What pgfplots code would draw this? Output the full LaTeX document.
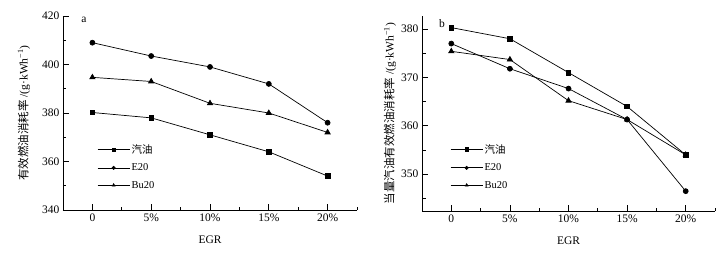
\documentclass[border=0pt]{standalone}
\usepackage{fontspec}
\setmainfont{Liberation Serif}
\newfontfamily\cjk{Noto Sans CJK SC}
\usepackage{pgfplots}
\pgfplotsset{compat=1.18}

\pgfplotstableread{
x gas e20 bu20
0 380.2 409.0 394.7
1 378.0 403.5 393.0
2 371.0 399.0 384.0
3 364.0 392.0 380.0
4 354.0 376.0 372.0
}\dataA

\pgfplotstableread{
x gas e20 bu20
0 380.3 377.0 375.4
1 378.0 371.8 373.7
2 371.0 367.7 365.2
3 364.0 361.3 361.3
4 354.0 346.5 354.0
}\dataB

\pgfplotsset{
 mystyle/.style={
  scale only axis,
  axis x line*=bottom, axis y line*=left,
  xmin=-0.5, xmax=4.5,
  xtick={0,...,4}, xticklabels={0,5\%,10\%,15\%,20\%},
  minor xtick={-0.5,0.5,1.5,2.5,3.5,4.5},
  minor y tick num=1,
  tick align=inside,
  major tick length=6pt, minor tick length=3.5pt,
  tick style={black, line width=0.7pt},
  axis line style={black, line width=0.8pt},
  ticklabel style={font=\fontsize{11.5}{13}\selectfont},
  /pgf/number format/assume math mode=true,
  label style={font=\fontsize{11.5}{13}\selectfont},
  xlabel={EGR},
  xlabel style={at={(axis description cs:0.5,0)}, anchor=center, yshift=-30pt},
  legend style={draw=none, fill=none, font=\fontsize{10.5}{12}\selectfont, anchor=west, row sep=6pt, inner sep=0pt,
    nodes={inner sep=1.5pt}},
  legend cell align=left,
  legend image code/.code={\draw[mark repeat=2,mark phase=2, mark size=1.6pt] plot coordinates {(0pt,0pt)(16pt,0pt)(32pt,0pt)};},
  every axis plot/.append style={black, line width=0.7pt},
 }
}

\begin{document}
\begin{tikzpicture}
\path[use as bounding box] (0,0) rectangle (719pt,254pt);

\begin{axis}[mystyle,
  at={(63pt,44pt)}, anchor=south west,
  width=294pt, height=194pt,
  ymin=340, ymax=420, ytick={340,360,...,420},
  ylabel={{\cjk 有效燃油消耗率} /(g·kWh\textsuperscript{−1})},
  ylabel style={at={(axis description cs:-0.133,0.5)}, anchor=center},
  legend style={at={(axis description cs:0.116,0.222)}},
]
\addplot[mark=square*, mark size=2.3pt] table[x=x,y=gas] {\dataA};
\addlegendentry{{\cjk 汽油}}
\addplot[mark=*, mark size=2.5pt] table[x=x,y=e20] {\dataA};
\addlegendentry{E20}
\addplot[mark=triangle*, mark size=3pt] table[x=x,y=bu20] {\dataA};
\addlegendentry{Bu20}
\node[font=\fontsize{11.5}{13}\selectfont] at (rel axis cs:0.071,0.98) {a};
\end{axis}

\begin{axis}[mystyle,
  at={(422pt,43pt)}, anchor=south west,
  width=293pt, height=195pt,
  ymin=342.4, ymax=382.7, ytick={350,360,370,380},
  minor ytick={345,355,365,375},
  ylabel={{\cjk 当量汽油有效燃油消耗率} /(g·kWh\textsuperscript{−1})},
  ylabel style={at={(axis description cs:-0.109,0.5)}, anchor=center},
  legend style={at={(axis description cs:0.096,0.226)}},
]
\addplot[mark=square*, mark size=2.3pt] table[x=x,y=gas] {\dataB};
\addlegendentry{{\cjk 汽油}}
\addplot[mark=*, mark size=2.5pt] table[x=x,y=e20] {\dataB};
\addlegendentry{E20}
\addplot[mark=triangle*, mark size=3pt] table[x=x,y=bu20] {\dataB};
\addlegendentry{Bu20}
\node[font=\fontsize{11.5}{13}\selectfont] at (rel axis cs:0.068,0.959) {b};
\end{axis}
\end{tikzpicture}
\end{document}
